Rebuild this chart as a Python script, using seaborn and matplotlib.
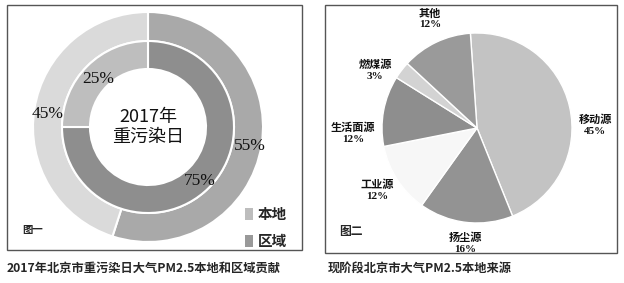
import matplotlib
matplotlib.use("Agg")
import matplotlib.pyplot as plt
import seaborn as sns
from matplotlib.patches import Rectangle

sns.set_theme(style="white")
plt.rcParams['font.family'] = ['Noto Sans CJK SC', 'DejaVu Sans']

# ---- data ----
ring_labels = ["本地", "区域"]
outer_values = [45, 55]
inner_values = [25, 75]
outer_colors = ["#dadada", "#a9a9a9"]
inner_colors = ["#bebebe", "#8e8e8e"]

src_labels = ["移动源", "扬尘源", "工业源", "生活面源", "燃煤源", "其他"]
src_values = [45, 16, 12, 12, 3, 12]
src_colors = ["#c3c3c3", "#939393", "#f7f7f7", "#8e8e8e", "#d3d3d3", "#9a9a9a"]

W, H = 624, 283
fig = plt.figure(figsize=(W / 100, H / 100), dpi=100)
ax = fig.add_axes([0, 0, 1, 1])
ax.set_xlim(0, W)
ax.set_ylim(0, H)
ax.set_aspect('equal')
ax.axis('off')

def Y(py):
    return H - py

serif_cjk = ['Liberation Serif', 'Noto Sans CJK SC']

# ---- panel frames ----
ax.add_patch(Rectangle((7, Y(250)), 295, 245, fill=False, ec="#555555", lw=1.0))
ax.add_patch(Rectangle((325, Y(253)), 292, 248, fill=False, ec="#555555", lw=1.0))

# ---- left donut ----
c1 = (148, Y(127))
ax.pie(outer_values[::-1], colors=outer_colors[::-1], radius=115, center=c1,
       startangle=90, counterclock=False, frame=True,
       wedgeprops=dict(width=29, edgecolor="white", linewidth=1.5))
ax.pie(inner_values[::-1], colors=inner_colors[::-1], radius=86, center=c1,
       startangle=90, counterclock=False, frame=True,
       wedgeprops=dict(width=28, edgecolor="white", linewidth=1.5))
ax.set_xlim(0, W)
ax.set_ylim(0, H)

pct_style = dict(family=serif_cjk, fontsize=12.5, color="#111111", ha="center", va="center")
ax.text(98, Y(79), f"{inner_values[0]}%", **pct_style)
ax.text(48, Y(114), f"{outer_values[0]}%", **pct_style)
ax.text(250, Y(146), f"{outer_values[1]}%", **pct_style)
ax.text(200, Y(181), f"{inner_values[1]}%", **pct_style)
ax.text(c1[0], c1[1], "2017年\n重污染日", fontsize=13, ha="center", va="center",
        linespacing=1.2, color="#111111")

ax.text(22, Y(230), "图一", fontsize=7.5, fontweight="bold", ha="left", va="center")
leg_colors = ["#bdbdbd", "#999999"]
for i, (lab, col) in enumerate(zip(ring_labels, leg_colors)):
    yy = Y(214 + 27 * i)
    ax.add_patch(Rectangle((245, yy - 6), 8, 12, color=col, lw=0))
    ax.text(258, yy, lab, fontsize=10.5, fontweight="bold", ha="left", va="center")

# ---- right pie ----
c2 = (477, Y(128))
ax.pie(src_values, colors=src_colors, radius=95, center=c2,
       startangle=94, counterclock=False, frame=True,
       wedgeprops=dict(edgecolor="white", linewidth=1.0))
ax.set_xlim(0, W)
ax.set_ylim(0, H)

lab_pos = {
    "移动源": (595, 125),
    "扬尘源": (465, 243),
    "工业源": (377, 190),
    "生活面源": (353, 133),
    "燃煤源": (375, 70),
    "其他": (430, 19),
}
for lab, val in zip(src_labels, src_values):
    x, y = lab_pos[lab]
    ax.text(x, Y(y), f"{lab}\n{val}%", family=serif_cjk, fontsize=8, fontweight="bold",
            ha="center", va="center", linespacing=1.25, color="#111111")

ax.text(339, Y(232), "图二", fontsize=8.5, fontweight="bold", ha="left", va="center")

# ---- captions ----
ax.text(7, Y(268), "2017年北京市重污染日大气PM2.5本地和区域贡献", fontsize=8.8,
        fontweight="bold", ha="left", va="center")
ax.text(328, Y(268), "现阶段北京市大气PM2.5本地来源", fontsize=8.8,
        fontweight="bold", ha="left", va="center")

fig.savefig("out.png", dpi=100)
